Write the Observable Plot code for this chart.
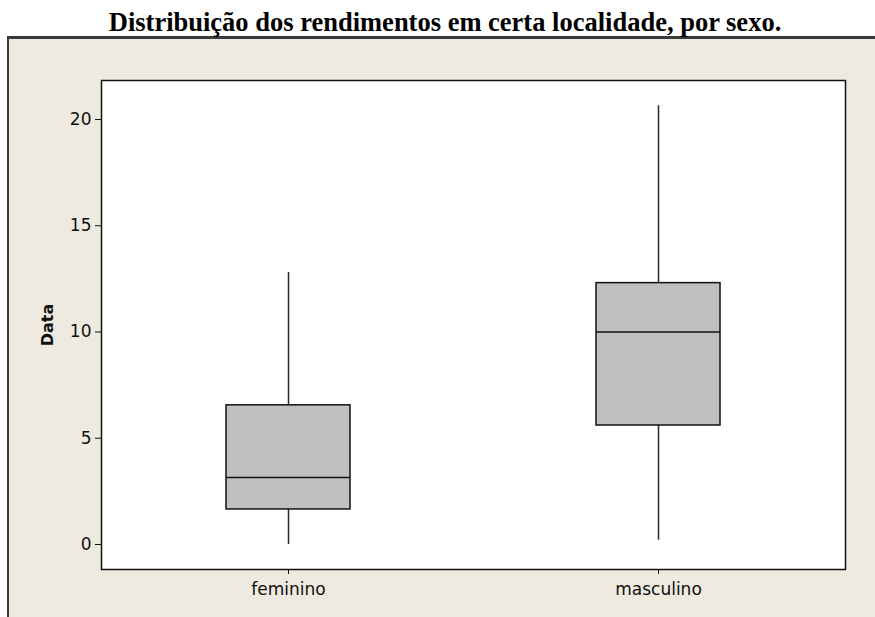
<!DOCTYPE html>
<html>
<head>
<meta charset="utf-8">
<script src="https://cdn.jsdelivr.net/npm/d3@7"></script>
<script src="https://cdn.jsdelivr.net/npm/@observablehq/plot@0.6"></script>
<style>
  html, body { margin: 0; padding: 0; background: #ffffff; }
  body { width: 875px; height: 617px; overflow: hidden; }
  #head { position: relative; height: 36px; }
  #title { position: absolute; left: 445px; top: 7px; transform: translateX(-50%); white-space: nowrap;
           font-family: "Liberation Serif", "Times New Roman", serif; font-weight: bold; font-size: 26.5px; color: #000; }
  #panel { margin-left: 7px; height: 578px; background: #EEEAE0;
           border-top: 3px solid #3a3a3a; border-left: 2px solid #3a3a3a; }
  #panel svg { display: block; }
</style>
</head>
<body>
<div id="head"><div id="title">Distribuição dos rendimentos em certa localidade, por sexo.</div></div>
<div id="panel"></div>
<script>
const categories = ["feminino", "masculino"];
const whiskerLow = [0, 0.2];
const q1 = [1.65, 5.6];
const median = [3.15, 10.0];
const q3 = [6.55, 12.3];
const whiskerHigh = [12.8, 20.65];
const yTicks = [0, 5, 10, 15, 20];
const yLabel = "Data";

const table = categories.map((c, i) => ({
  sexo: c, lo: whiskerLow[i], q1: q1[i], med: median[i], q3: q3[i], hi: whiskerHigh[i]
}));

const chart = Plot.plot({
  width: 866,
  height: 578,
  marginLeft: 92,
  marginRight: 30,
  marginTop: 41,
  marginBottom: 48,
  style: { background: "transparent", fontFamily: "DejaVu Sans, Verdana, sans-serif", fontSize: "16px", color: "#111" },
  x: { type: "band", domain: categories, paddingInner: 0.666, paddingOuter: 0.337, label: null },
  y: { domain: [-1.176, 21.835], ticks: yTicks, label: null },
  marks: [
    Plot.frame({ fill: "#ffffff" }),
    Plot.ruleX(table, { x: "sexo", y1: "lo", y2: "hi", stroke: "#2a2a2a", strokeWidth: 1.5 }),
    Plot.barY(table, { x: "sexo", y1: "q1", y2: "q3", fill: "#c0c0c0", stroke: "#111", strokeWidth: 1.5 }),
    Plot.tickY(table, { x: "sexo", y: "med", stroke: "#111", strokeWidth: 1.5 }),
    Plot.frame({ stroke: "#111", strokeWidth: 1.5 }),
    Plot.axisY({ ticks: yTicks, tickSize: 6, tickPadding: 4, label: null, fontSize: 17 }),
    Plot.axisX({ tickSize: 5, tickPadding: 8, label: null, fontSize: 17 }),
    Plot.text([yLabel], { text: d => d, frameAnchor: "left", textAnchor: "middle", lineAnchor: "middle",
                          rotate: -90, dx: -54, fontWeight: "bold", fontSize: 16 })
  ]
});
document.getElementById("panel").appendChild(chart);
</script>
</body>
</html>
